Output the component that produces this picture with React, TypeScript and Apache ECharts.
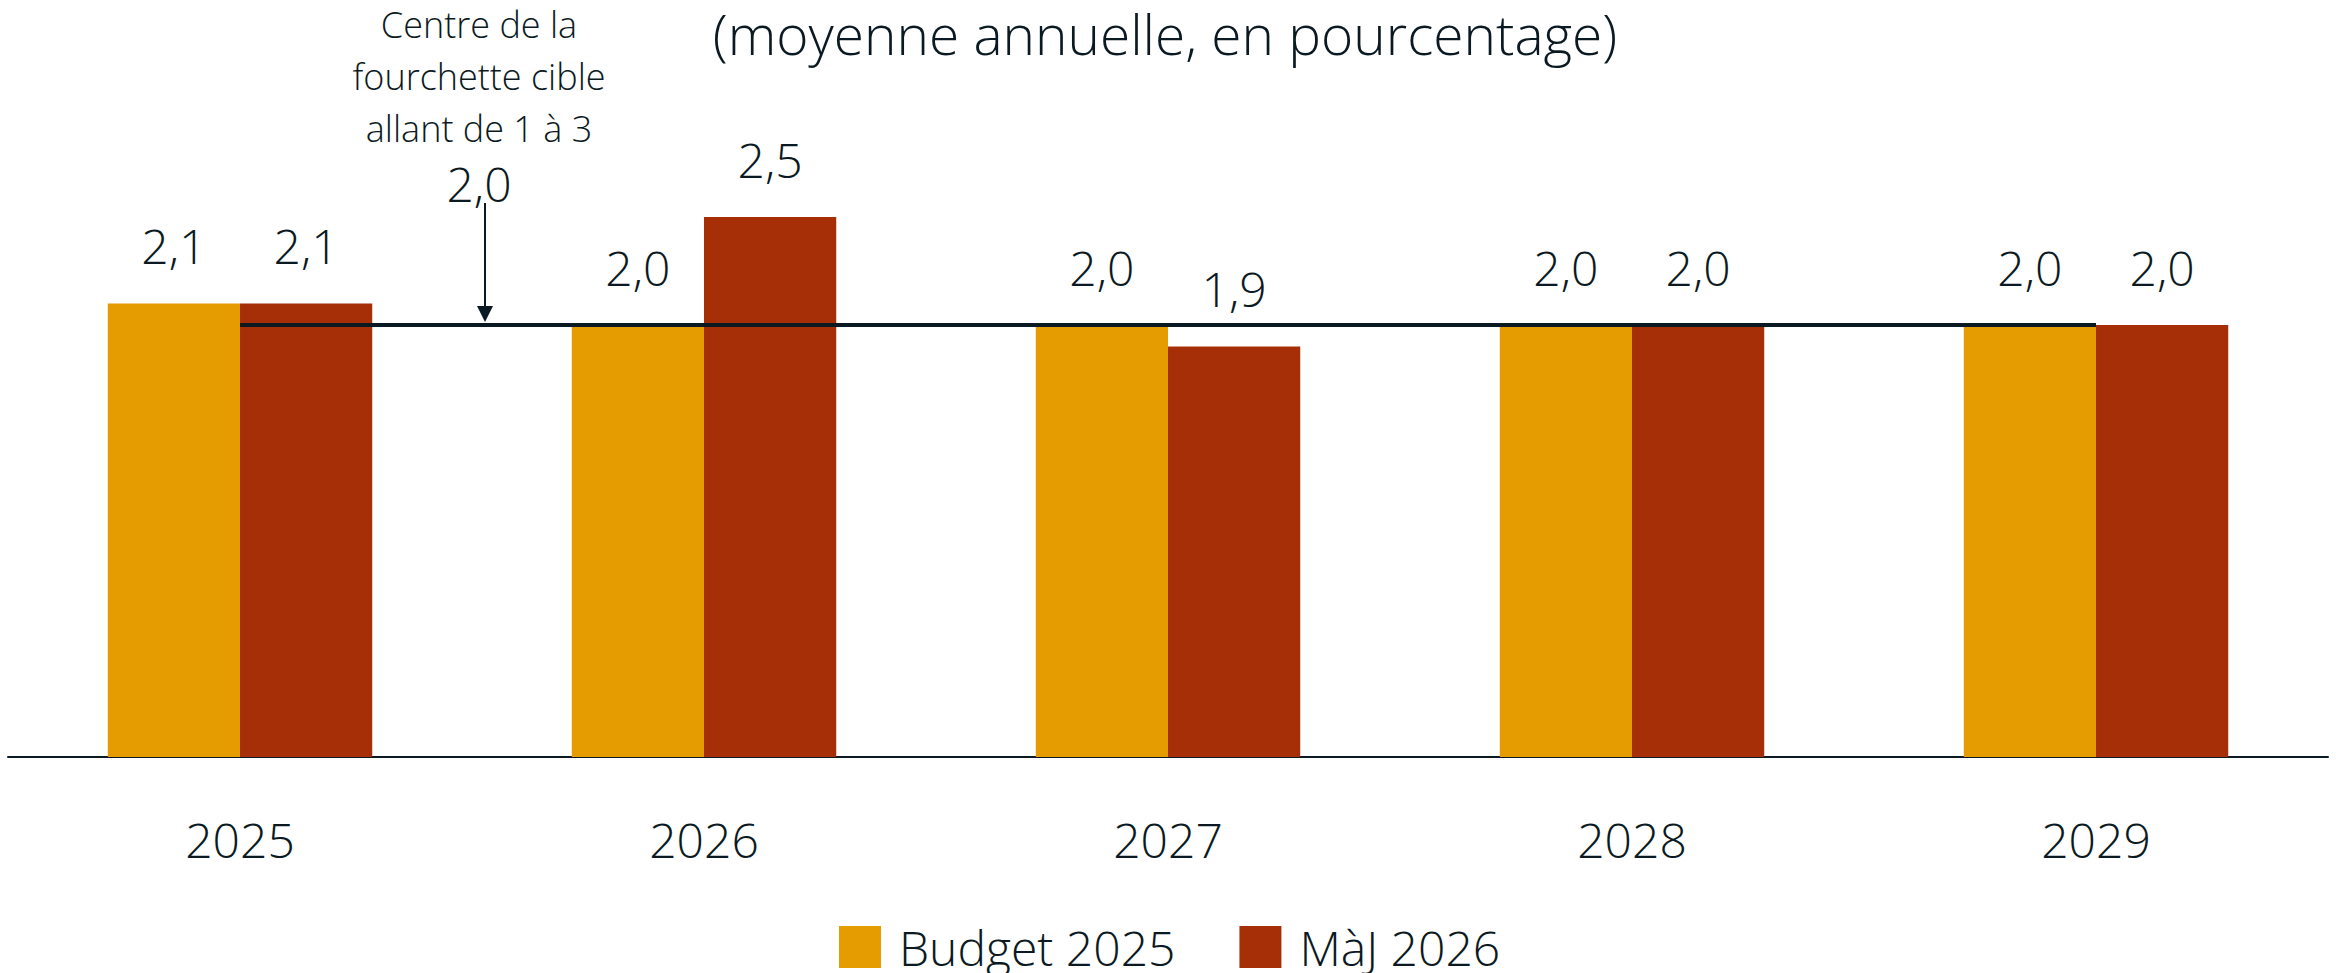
import React, { useEffect, useRef } from "react";
import * as echarts from "echarts";

const categories = ["2025", "2026", "2027", "2028", "2029"];
const budget2025 = [2.1, 2.0, 2.0, 2.0, 2.0];
const maj2026 = [2.1, 2.5, 1.9, 2.0, 2.0];
const targetMid = 2.0;
const seriesNames = ["Budget 2025", "MàJ 2026"];
const titleText = "(moyenne annuelle, en pourcentage)";
const annotationText = "Centre de la\nfourchette cible\nallant de 1 à 3";
const annotationValue = "2,0";

const FONT = "'Open Sans', 'Noto Sans', sans-serif";
const TEXT = "#0b1a22";
const YELLOW = "#E59C00";
const RED = "#A72F07";

const fmt = (v: number) => v.toFixed(1).replace(".", ",");

export default function App() {
  const ref = useRef<HTMLDivElement>(null);
  useEffect(() => {
    if (!ref.current) return;
    const chart = echarts.init(ref.current, undefined, { renderer: "svg" });
    const labelCfg = {
      show: true,
      position: "top" as const,
      distance: 34,
      fontFamily: FONT,
      fontSize: 48,
      fontWeight: 300 as any,
      color: TEXT,
      formatter: (p: any) => fmt(p.value as number),
    };
    chart.setOption({
      animation: false,
      backgroundColor: "#ffffff",
      grid: { left: 8, right: 8, top: 109, height: 648, containLabel: false },
      xAxis: {
        type: "category",
        data: categories,
        axisLine: { show: true, lineStyle: { color: TEXT, width: 2 } },
        axisTick: { show: false },
        axisLabel: {
          margin: 58,
          fontFamily: FONT,
          fontSize: 48,
          fontWeight: 300,
          color: TEXT,
        },
      },
      yAxis: {
        type: "value",
        min: 0,
        max: 3,
        show: false,
        splitLine: { show: false },
      },
      legend: {
        data: seriesNames,
        left: 834,
        top: 918,
        itemWidth: 42,
        itemHeight: 42,
        itemGap: 64,
        icon: "rect",
        textStyle: {
          fontFamily: FONT,
          fontSize: 48,
          fontWeight: 300,
          color: TEXT,
          padding: [0, 0, 30, 13],
        },
      },
      series: [
        {
          name: seriesNames[0],
          type: "bar",
          data: budget2025,
          barGap: "0%",
          barCategoryGap: "43%",
          itemStyle: { color: YELLOW },
          label: labelCfg,
          z: 2,
        },
        {
          name: seriesNames[1],
          type: "bar",
          data: maj2026,
          barGap: "0%",
          barCategoryGap: "43%",
          itemStyle: { color: RED },
          label: labelCfg,
          z: 2,
        },
        {
          name: "target",
          type: "line",
          data: [
            [categories[0], targetMid],
            [categories[categories.length - 1], targetMid],
          ],
          symbol: "none",
          lineStyle: { color: TEXT, width: 4 },
          z: 5,
          silent: true,
        },
      ],
      graphic: [
        {
          type: "text",
          x: 1165,
          y: 33,
          style: {
            text: titleText,
            fontFamily: FONT,
            fontSize: 55,
            fontWeight: 300,
            fill: TEXT,
            align: "center",
            verticalAlign: "middle",
          },
        },
        {
          type: "text",
          x: 479,
          y: 76,
          style: {
            text: annotationText,
            fontFamily: FONT,
            fontSize: 36,
            fontWeight: 300,
            lineHeight: 52,
            fill: TEXT,
            align: "center",
            verticalAlign: "middle",
          },
        },
        {
          type: "text",
          x: 479,
          y: 183,
          style: {
            text: annotationValue,
            fontFamily: FONT,
            fontSize: 48,
            fontWeight: 300,
            fill: TEXT,
            align: "center",
            verticalAlign: "middle",
          },
        },
        {
          type: "line",
          shape: { x1: 485, y1: 203, x2: 485, y2: 310 },
          style: { stroke: TEXT, lineWidth: 2 },
        },
        {
          type: "polygon",
          shape: { points: [[477, 306], [493, 306], [485, 322]] },
          style: { fill: TEXT },
        },
      ],
    });
    return () => chart.dispose();
  }, []);
  return (
    <div
      ref={ref}
      style={{ position: "fixed", left: 0, top: 0, width: 2336, height: 973 }}
    />
  );
}
